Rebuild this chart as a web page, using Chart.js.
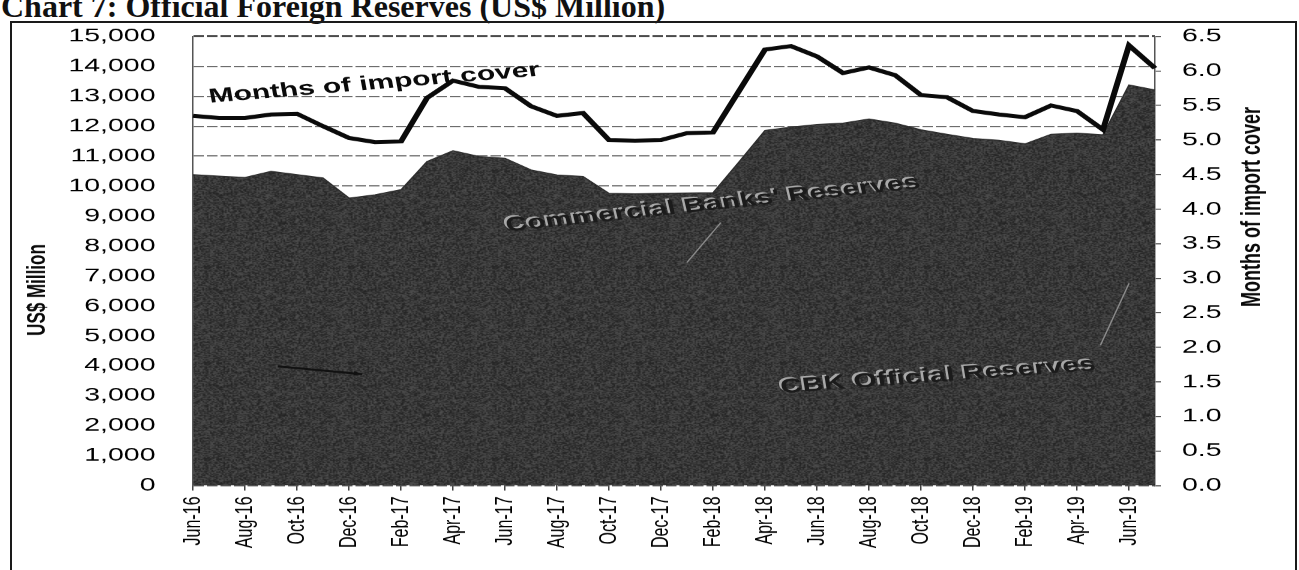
<!DOCTYPE html>
<html lang="en">
<head>
  <meta charset="UTF-8">
  <title>Chart 7: Official Foreign Reserves (US$ Million)</title>
  <script src="https://cdn.jsdelivr.net/npm/chart.js"></script>
  <style>
    html, body { margin: 0; padding: 0; background: #fff; overflow: hidden; }
    body { width: 1299px; height: 570px; position: relative; }
    .caption {
      position: absolute; left: 1px; top: -10px;
      font: bold 32px/32px 'Liberation Serif', 'Times New Roman', serif;
      color: #111; white-space: nowrap;
    }
    .frame {
      position: absolute; left: 10px; top: 21px;
      width: 1283px; height: 620px; border: 2px solid #1a1a1a;
    }
    /* the figure is laid out narrow and printed 1.5x wider */
    .plot {
      position: absolute; left: 0; top: 0; width: 866px; height: 570px;
      transform: scaleX(1.5); transform-origin: 0 0;
    }
  </style>
</head>
<body>
  <div class="caption">Chart 7: Official Foreign Reserves (US$ Million)</div>
  <div class="frame"></div>
  <div class="plot"><canvas id="reserves"></canvas></div>

  <script>
    const STRETCH = 1.5;

    const months = [
      'Jun-16', 'Jul-16', 'Aug-16', 'Sep-16', 'Oct-16', 'Nov-16', 'Dec-16',
      'Jan-17', 'Feb-17', 'Mar-17', 'Apr-17', 'May-17', 'Jun-17', 'Jul-17',
      'Aug-17', 'Sep-17', 'Oct-17', 'Nov-17', 'Dec-17', 'Jan-18', 'Feb-18',
      'Mar-18', 'Apr-18', 'May-18', 'Jun-18', 'Jul-18', 'Aug-18', 'Sep-18',
      'Oct-18', 'Nov-18', 'Dec-18', 'Jan-19', 'Feb-19', 'Mar-19', 'Apr-19',
      'May-19', 'Jun-19', 'Jul-19'
    ];

    // Official foreign reserves, US$ million (left axis)
    const reserves = [
      10380, 10330, 10290, 10490, 10380, 10270, 9600,
      9710, 9880, 10820, 11180, 10990, 10930, 10540,
      10370, 10320, 9760, 9740, 9760, 9770, 9780,
      10810, 11860, 11970, 12060, 12100, 12240, 12100,
      11880, 11730, 11590, 11530, 11410, 11730, 11770,
      11710, 13380, 13210
    ];

    // Months of import cover (right axis)
    const importCover = [
      5.35, 5.32, 5.32, 5.37, 5.38, 5.20, 5.03,
      4.97, 4.98, 5.61, 5.86, 5.77, 5.75, 5.49,
      5.35, 5.39, 5.00, 4.99, 5.00, 5.10, 5.11,
      5.71, 6.31, 6.36, 6.21, 5.97, 6.05, 5.94,
      5.65, 5.62, 5.42, 5.37, 5.33, 5.50, 5.42,
      5.15, 6.37, 6.04
    ];

    const usdRange = [0, 15000, 1000];
    const coverRange = [0, 6.5, 0.5];

    // in-chart labels: [text, month index, axis, value, slope in degrees, style]
    const notes = [
      ['Months of import cover', 0.65, 'cover', 5.54, -4.7, 'plain'],
      ["Commercial Banks' Reserves", 12.05, 'usd', 8500, -6.0, 'pressed'],
      ['CBK Official Reserves', 22.6, 'usd', 3100, -4.2, 'pressed']
    ];

    // leader lines: [from index, from value, to index, to value, colour, arrow]
    const leaders = [
      [3.27, 3980, 6.5, 3720, '#111', true],
      [20.3, 8780, 19.0, 7450, '#8c8c8c', false],
      [34.9, 4680, 36.0, 6750, '#8c8c8c', false]
    ];

    // grainy dark fill for the reserves area
    function grainPattern() {
      const size = 96;
      const c = document.createElement('canvas');
      c.width = c.height = size;
      const g = c.getContext('2d');
      const img = g.createImageData(size, size);
      let seed = 20190731;
      for (let p = 0; p < size * size; p++) {
        seed = (seed * 1103515245 + 12345) & 0x7fffffff;
        const v = 34 + ((seed >> 16) % 46);
        img.data[p * 4] = v;
        img.data[p * 4 + 1] = v;
        img.data[p * 4 + 2] = v;
        img.data[p * 4 + 3] = 255;
      }
      g.putImageData(img, 0, 0);
      return g.createPattern(c, 'repeat');
    }

    const sans = "'Liberation Sans', Arial, sans-serif";

    // axis titles, slanted labels and leader lines
    const annotations = {
      id: 'annotations',
      afterDatasetsDraw(chart) {
        const { ctx, scales } = chart;
        const x = scales.x;

        leaders.forEach(([i1, v1, i2, v2, colour, arrow]) => {
          const x1 = x.getPixelForValue(i1), y1 = scales.usd.getPixelForValue(v1);
          const x2 = x.getPixelForValue(i2), y2 = scales.usd.getPixelForValue(v2);
          ctx.save();
          ctx.strokeStyle = colour;
          ctx.lineWidth = arrow ? 2 : 1;
          ctx.beginPath();
          ctx.moveTo(x1, y1);
          ctx.lineTo(x2, y2);
          ctx.stroke();
          if (arrow) {
            const a = Math.atan2(y2 - y1, x2 - x1);
            ctx.fillStyle = colour;
            ctx.beginPath();
            ctx.moveTo(x2, y2);
            ctx.lineTo(x2 - 6 * Math.cos(a - 0.4), y2 - 6 * Math.sin(a - 0.4));
            ctx.lineTo(x2 - 6 * Math.cos(a + 0.4), y2 - 6 * Math.sin(a + 0.4));
            ctx.closePath();
            ctx.fill();
          }
          ctx.restore();
        });

        notes.forEach(([text, idx, axis, value, deg, style]) => {
          const px = x.getPixelForValue(idx);
          const py = scales[axis].getPixelForValue(value);
          // slope is given as printed, so undo the horizontal widening
          const angle = Math.atan(Math.tan(deg * Math.PI / 180) * STRETCH);
          ctx.save();
          ctx.translate(px, py);
          ctx.rotate(angle);
          ctx.font = 'bold 20px ' + sans;
          ctx.textBaseline = 'alphabetic';
          ctx.textAlign = 'left';
          if (style === 'pressed') {
            ctx.fillStyle = '#a8a8a8';
            ctx.fillText(text, -1, -1);
            ctx.fillStyle = '#1b1b1b';
            ctx.fillText(text, 0.6, 0.6);
          } else {
            ctx.fillStyle = '#0a0a0a';
            ctx.fillText(text, 0, 0);
          }
          ctx.restore();
        });
      },
      afterDraw(chart) {
        const { ctx } = chart;
        const titles = [
          ['US$ Million', 25.3, 290, 17],
          ['Months of import cover', 834.7, 207, 18]
        ];
        titles.forEach(([text, tx, ty, size]) => {
          ctx.save();
          ctx.translate(tx, ty);
          ctx.rotate(-Math.PI / 2);
          ctx.font = 'bold ' + size + 'px ' + sans;
          ctx.fillStyle = '#0a0a0a';
          ctx.textAlign = 'center';
          ctx.textBaseline = 'middle';
          ctx.fillText(text, 0, 0);
          ctx.restore();
        });
      }
    };

    new Chart(document.getElementById('reserves'), {
      type: 'line',
      data: {
        labels: months,
        datasets: [
          {
            label: 'Months of import cover',
            data: importCover,
            yAxisID: 'cover',
            borderColor: '#0a0a0a',
            borderWidth: 4,
            pointRadius: 0,
            tension: 0,
            fill: false,
            order: 0
          },
          {
            label: 'Official foreign reserves',
            data: reserves,
            yAxisID: 'usd',
            backgroundColor: grainPattern(),
            borderColor: '#2e2e2e',
            borderWidth: 1,
            pointRadius: 0,
            tension: 0,
            fill: 'origin',
            order: 1
          }
        ]
      },
      options: {
        responsive: true,
        maintainAspectRatio: false,
        devicePixelRatio: STRETCH,
        animation: false,
        layout: { padding: { top: 35.5, left: 0, right: 0, bottom: 0 } },
        plugins: {
          legend: { display: false },
          tooltip: { enabled: false }
        },
        scales: {
          x: {
            offset: false,
            grid: { drawOnChartArea: false, tickLength: 5, color: '#444' },
            border: { display: false },
            ticks: {
              autoSkip: false,
              minRotation: 90,
              maxRotation: 90,
              padding: 6,
              color: '#000',
              font: { family: sans, size: 16 },
              callback: (v, i) => (i % 2 === 0 ? months[i] : null)
            },
            afterFit: s => { s.height = 84.5; }
          },
          usd: {
            position: 'left',
            min: usdRange[0],
            max: usdRange[1],
            grid: {
              drawTicks: false,
              color: c => (c.tick && c.tick.value === usdRange[1] ? '#222' : '#585858'),
              lineWidth: c => (c.tick && c.tick.value === usdRange[1] ? 1.5 : 1)
            },
            border: { display: true, color: '#555', dash: [7, 2] },
            ticks: {
              stepSize: usdRange[2],
              maxTicksLimit: 30,
              padding: 25,
              color: '#000',
              font: { family: sans, size: 19 },
              callback: v => v.toLocaleString('en-US')
            },
            afterFit: s => { s.width = 128.7; }
          },
          cover: {
            position: 'right',
            min: coverRange[0],
            max: coverRange[1],
            grid: { drawOnChartArea: false, tickLength: 4, color: '#444' },
            border: { display: true, color: '#555' },
            ticks: {
              stepSize: coverRange[2],
              maxTicksLimit: 30,
              padding: 14,
              color: '#000',
              font: { family: sans, size: 19 },
              callback: v => v.toFixed(1)
            },
            afterFit: s => { s.width = 866 - 770; }
          }
        }
      },
      plugins: [annotations]
    });
  </script>
</body>
</html>
